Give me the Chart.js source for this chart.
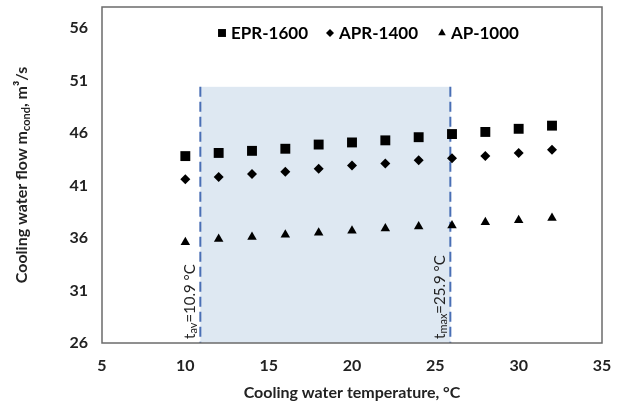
<!DOCTYPE html>
<html>
<head>
<meta charset="utf-8">
<script src="https://cdn.jsdelivr.net/npm/chart.js@4.4.0/dist/chart.umd.min.js"></script>
<style>
    html, body { margin: 0; padding: 0; background: #fff; }
    #wrap { width: 619px; height: 408px; }
</style>
</head>
<body>
<div id="wrap"><canvas id="flowChart" width="619" height="408"></canvas></div>
<script>
// ============================================
// DATA
// ============================================
const temps   = [10, 12, 14, 16, 18, 20, 22, 24, 26, 28, 30, 32]
const epr1600 = [43.8, 44.1, 44.3, 44.5, 44.9, 45.1, 45.3, 45.6, 45.9, 46.1, 46.4, 46.7]
const apr1400 = [41.6, 41.8, 42.1, 42.3, 42.6, 42.9, 43.1, 43.4, 43.6, 43.8, 44.1, 44.4]
const ap1000  = [35.6, 35.9, 36.1, 36.3, 36.5, 36.7, 36.9, 37.1, 37.2, 37.5, 37.7, 37.9]

const yTicks = [26, 31, 36, 41, 46, 51, 56]
const tAv = 10.9
const tMax = 25.9
const bandTop = 50.4

const FONT = 'Lato, "Open Sans", sans-serif'
const INK = '#222'

// ============================================
// PLUGIN: band, lines, frame, legend, titles
// ============================================
const decor = {
    id: 'decor',
    beforeDatasetsDraw(chart) {
        const { ctx, scales: { x, y } } = chart
        const x1 = x.getPixelForValue(tAv)
        const x2 = x.getPixelForValue(tMax)
        const yTop = y.getPixelForValue(bandTop)
        const yBot = y.getPixelForValue(26)

        ctx.save()
        ctx.fillStyle = '#DEE8F2'
        ctx.fillRect(x1, yTop, x2 - x1, yBot - yTop)

        ctx.strokeStyle = '#4A6FB5'
        ctx.lineWidth = 2
        ctx.setLineDash([10, 5])
        ;[x1, x2].forEach(px => {
            ctx.beginPath()
            ctx.moveTo(px, yTop)
            ctx.lineTo(px, yBot)
            ctx.stroke()
        })
        ctx.setLineDash([])

        // rotated labels next to the lines
        const label = (px, sub, rest) => {
            ctx.save()
            ctx.translate(px - 10, yBot - 4)
            ctx.rotate(-Math.PI / 2)
            ctx.fillStyle = INK
            ctx.textBaseline = 'middle'
            ctx.textAlign = 'left'
            ctx.font = `15px ${FONT}`
            ctx.fillText('t', 0, 0)
            let w = ctx.measureText('t').width
            ctx.font = `11px ${FONT}`
            ctx.fillText(sub, w, 3)
            w += ctx.measureText(sub).width
            ctx.font = `15px ${FONT}`
            ctx.fillText(rest, w, 0)
            ctx.restore()
        }
        label(x1, 'av', '=10.9 °C')
        label(x2, 'max', '=25.9 °C')
        ctx.restore()
    },
    afterDraw(chart) {
        const { ctx, scales: { x, y } } = chart
        ctx.save()
        ctx.strokeStyle = '#6b6b6b'
        ctx.lineWidth = 1.5
        ctx.strokeRect(x.left, y.top, x.right - x.left, y.bottom - y.top)

        // legend
        ctx.fillStyle = '#000'
        ctx.font = `bold 17px ${FONT}`
        ctx.textBaseline = 'middle'
        ctx.textAlign = 'left'
        const ly = 33
        const legendX = [222, 330, 442]
        chart.data.datasets.forEach((ds, i) => {
            Chart.helpers.drawPoint(ctx, { pointStyle: ds.pointStyle, radius: ds.pointRadius * 0.8, borderWidth: 0 }, legendX[i], ly)
            ctx.fillText(ds.label, legendX[i] + 9, ly + 1)
        })

        // axis titles
        ctx.fillStyle = INK
        ctx.textAlign = 'center'
        ctx.font = `bold 16px ${FONT}`
        ctx.fillText('Cooling water temperature, °C', (x.left + x.right) / 2, 393)

        ctx.translate(22, 175)
        ctx.rotate(-Math.PI / 2)
        const parts = [
            ['Cooling water flow m', `bold 16px ${FONT}`, 0],
            ['cond', `bold 11px ${FONT}`, 4],
            [', m³/s', `bold 16px ${FONT}`, 0]
        ]
        let total = 0
        parts.forEach(p => { ctx.font = p[1]; total += ctx.measureText(p[0]).width })
        let cx = -total / 2
        ctx.textAlign = 'left'
        parts.forEach(p => {
            ctx.font = p[1]
            ctx.fillText(p[0], cx, p[2])
            cx += ctx.measureText(p[0]).width
        })
        ctx.restore()
    }
}

// ============================================
// CHART
// ============================================
function pointsOf(vals) {
    return temps.map((t, i) => ({ x: t, y: vals[i] }))
}

function init() {
    const ctx = document.getElementById('flowChart').getContext('2d')
    new Chart(ctx, {
        type: 'scatter',
        data: {
            datasets: [
                { label: 'EPR-1600', data: pointsOf(epr1600), pointStyle: 'rect', pointRadius: 7, backgroundColor: '#000', borderColor: '#000', borderWidth: 0 },
                { label: 'APR-1400', data: pointsOf(apr1400), pointStyle: 'rectRot', pointRadius: 5, backgroundColor: '#000', borderColor: '#000', borderWidth: 0 },
                { label: 'AP-1000', data: pointsOf(ap1000), pointStyle: 'triangle', pointRadius: 5.5, backgroundColor: '#000', borderColor: '#000', borderWidth: 0 }
            ]
        },
        options: {
            responsive: false,
            animation: false,
            layout: { padding: { top: 7, right: 17, left: 0, bottom: 0 } },
            plugins: {
                legend: { display: false },
                tooltip: { enabled: false }
            },
            scales: {
                x: {
                    type: 'linear',
                    min: 5,
                    max: 35,
                    afterFit: (s) => { s.height = 65; s.paddingLeft = 0; s.paddingRight = 0 },
                    grid: { display: false, drawTicks: false },
                    border: { display: false },
                    ticks: { stepSize: 5, padding: 13, color: INK, font: { family: FONT, size: 16, weight: 'bold' } }
                },
                y: {
                    min: 26,
                    max: 58,
                    afterFit: (s) => { s.width = 102; s.paddingTop = 0; s.paddingBottom = 0 },
                    afterBuildTicks: (s) => { s.ticks = yTicks.map(v => ({ value: v })) },
                    grid: { display: false, drawTicks: false },
                    border: { display: false },
                    ticks: { padding: 14, color: INK, font: { family: FONT, size: 16, weight: 'bold' } }
                }
            }
        },
        plugins: [decor]
    })
}

document.addEventListener('DOMContentLoaded', init)
</script>
</body>
</html>
